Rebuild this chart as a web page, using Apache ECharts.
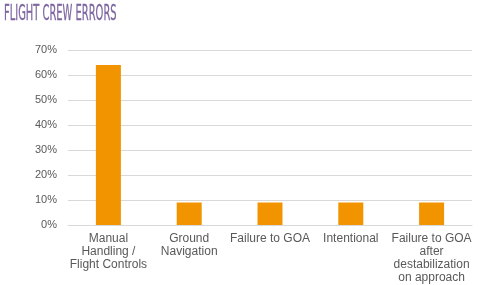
<!DOCTYPE html>
<html><head><meta charset="utf-8">
<script src="https://cdn.jsdelivr.net/npm/echarts@6/dist/echarts.min.js"></script>
<style>html,body{margin:0;padding:0;background:#fff}#c{width:480px;height:285px}</style>
</head><body><div id="c"></div>
<script>
const titleText = 'FLIGHT CREW ERRORS';
const categories = ['Manual\nHandling /\nFlight Controls','Ground\nNavigation','Failure to GOA','Intentional','Failure to GOA\nafter\ndestabilization\non approach'];
const values = [64, 9, 9, 9, 9];
const yTicks = [0, 10, 20, 30, 40, 50, 60, 70];
const chart = echarts.init(document.getElementById('c'), null, {renderer:'canvas'});
chart.setOption({
  animation:false,
  graphic:[{type:'text', x:4, y:4, scaleX:0.525, scaleY:1,
    style:{text:titleText, font:'21px "DejaVu Sans Condensed"', fill:'#7d66a0', stroke:'#7d66a0', lineWidth:0.3, textVerticalAlign:'top'}}],
  grid:{left:68, right:8, top:50, bottom:60},
  xAxis:{type:'category', data:categories, axisTick:{show:false},
    axisLine:{lineStyle:{color:'#d9d9d9', width:1}},
    axisLabel:{interval:0, color:'#595959', fontFamily:'Liberation Sans', fontSize:12, lineHeight:13, margin:7}},
  yAxis:{type:'value', min:yTicks[0], max:yTicks[yTicks.length-1], interval:10,
    axisLabel:{formatter:v=>v+'%', color:'#595959', fontFamily:'Liberation Sans', fontSize:11, margin:11},
    splitLine:{lineStyle:{color:'#d9d9d9'}}, axisLine:{show:false}, axisTick:{show:false}},
  series:[{type:'bar', data:values, barWidth:25, itemStyle:{color:'#f29400'}}]
});
</script></body></html>
